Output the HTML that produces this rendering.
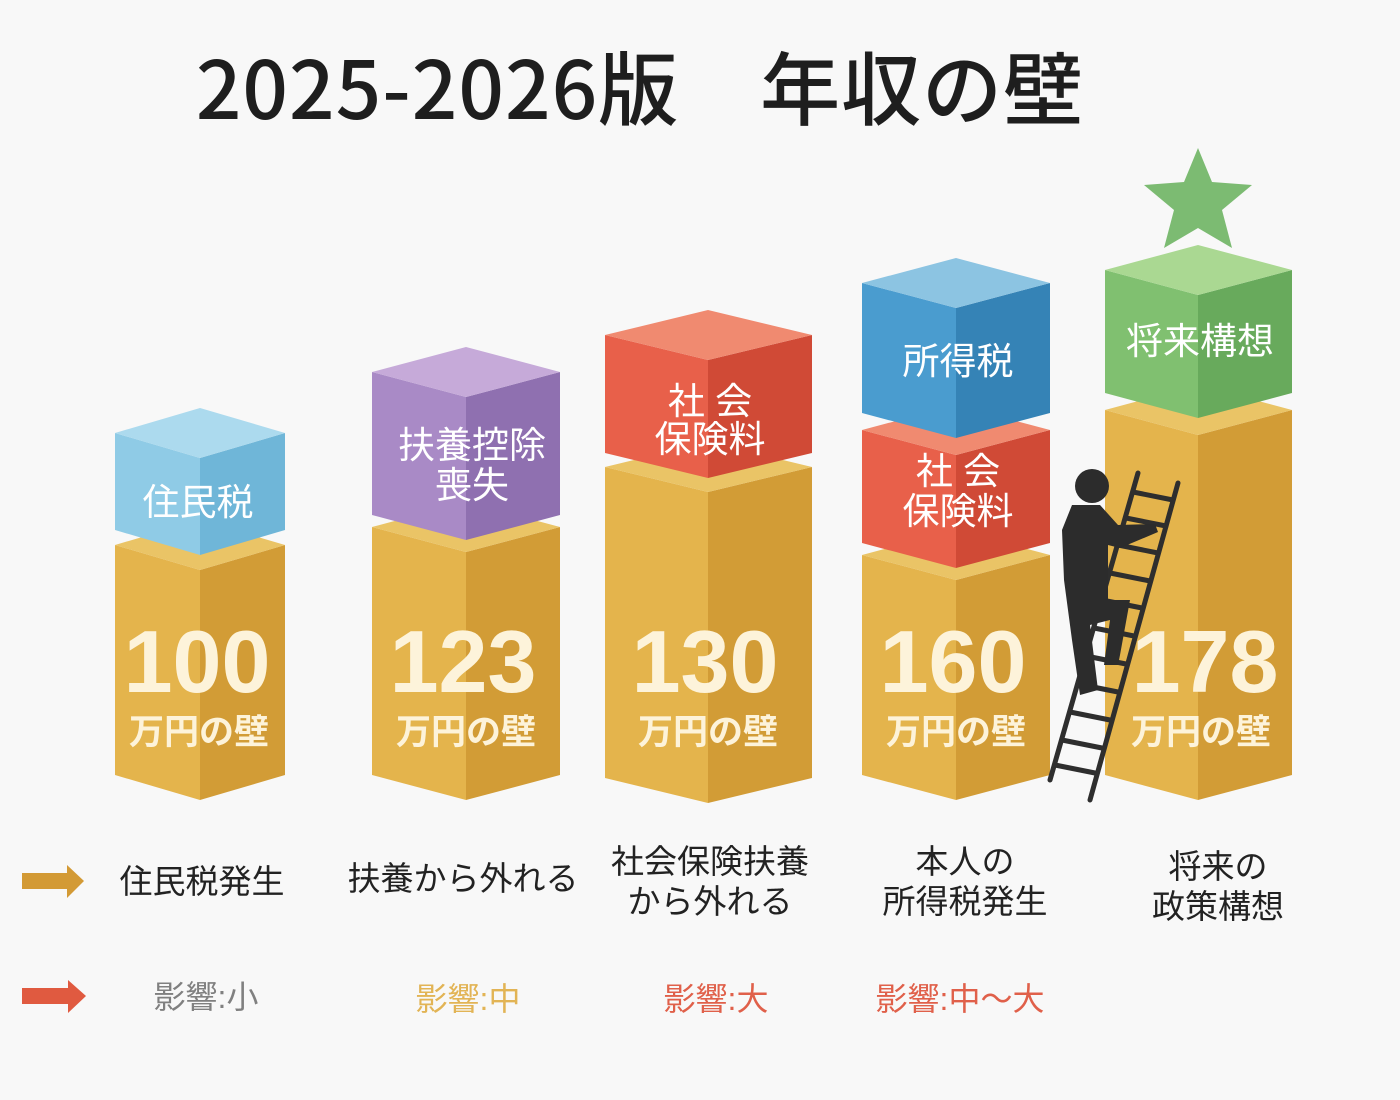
<!DOCTYPE html>
<html><head><meta charset="utf-8"><style>
html,body{margin:0;padding:0;background:#f8f8f8;}
svg{display:block;}
text{font-family:"Liberation Sans","Noto Sans CJK JP",sans-serif;}
</style></head><body>
<svg width="1400" height="1100" viewBox="0 0 1400 1100" xmlns="http://www.w3.org/2000/svg">
<rect width="1400" height="1100" fill="#f8f8f8"/>
<text x="640" y="119" font-size="80" font-weight="500" fill="#1e1e1e" text-anchor="middle" style="font-family:'Noto Sans CJK JP',sans-serif;letter-spacing:1px">2025-2026版　年収の壁</text>

<!-- Col1 -->
<g>
<polygon points="115,545 200,570 200,800 115,775" fill="#e4b44c"/>
<polygon points="200,570 285,545 285,775 200,800" fill="#d29c36"/>
<polygon points="115,545 200,520 285,545 200,570" fill="#eac466"/>
<polygon points="115,433 200,458 200,555 115,530" fill="#8fcbe6"/>
<polygon points="200,458 285,433 285,530 200,555" fill="#6fb6d8"/>
<polygon points="115,433 200,408 285,433 200,458" fill="#acdaee"/>
<text x="198" y="515" font-size="37" fill="#fff" text-anchor="middle">住民税</text>
<text x="197" y="692" font-size="88" font-weight="bold" fill="#fdf3da" text-anchor="middle">100</text>
<text x="199" y="744" font-size="35" font-weight="bold" fill="#fdf3da" text-anchor="middle">万円の壁</text>
</g>
<!-- Col2 -->
<g>
<polygon points="372,527 466,552 466,800 372,775" fill="#e4b44c"/>
<polygon points="466,552 560,527 560,775 466,800" fill="#d29c36"/>
<polygon points="372,527 466,502 560,527 466,552" fill="#eac466"/>
<polygon points="372,372 466,397 466,540 372,515" fill="#a98ac6"/>
<polygon points="466,397 560,372 560,515 466,540" fill="#8f70b0"/>
<polygon points="372,372 466,347 560,372 466,397" fill="#c6aad9"/>
<text x="472" y="458" font-size="37" fill="#fff" text-anchor="middle">扶養控除</text>
<text x="472" y="498" font-size="37" fill="#fff" text-anchor="middle">喪失</text>
<text x="463" y="692" font-size="88" font-weight="bold" fill="#fdf3da" text-anchor="middle">123</text>
<text x="466" y="744" font-size="35" font-weight="bold" fill="#fdf3da" text-anchor="middle">万円の壁</text>
</g>
<!-- Col3 -->
<g>
<polygon points="605,467 708,492 708,803 605,778" fill="#e4b44c"/>
<polygon points="708,492 812,467 812,778 708,803" fill="#d29c36"/>
<polygon points="605,467 708,442 812,467 708,492" fill="#eac466"/>
<polygon points="605,335 708,360 708,478 605,453" fill="#e8604a"/>
<polygon points="708,360 812,335 812,453 708,478" fill="#d04a36"/>
<polygon points="605,335 708,310 812,335 708,360" fill="#f08a70"/>
<text x="710" y="414" font-size="37" fill="#fff" text-anchor="middle">社 会</text>
<text x="710" y="452" font-size="37" fill="#fff" text-anchor="middle">保険料</text>
<text x="705" y="692" font-size="88" font-weight="bold" fill="#fdf3da" text-anchor="middle">130</text>
<text x="708" y="744" font-size="35" font-weight="bold" fill="#fdf3da" text-anchor="middle">万円の壁</text>
</g>
<!-- Col4 -->
<g>
<polygon points="862,555 956,580 956,800 862,775" fill="#e4b44c"/>
<polygon points="956,580 1050,555 1050,775 956,800" fill="#d29c36"/>
<polygon points="862,555 956,530 1050,555 956,580" fill="#eac466"/>
<polygon points="862,430 956,455 956,568 862,543" fill="#e8604a"/>
<polygon points="956,455 1050,430 1050,543 956,568" fill="#d04a36"/>
<polygon points="862,430 956,405 1050,430 956,455" fill="#f08a70"/>
<polygon points="862,283 956,308 956,438 862,413" fill="#4a9ccf"/>
<polygon points="956,308 1050,283 1050,413 956,438" fill="#3583b6"/>
<polygon points="862,283 956,258 1050,283 956,308" fill="#8cc4e2"/>
<text x="958" y="374" font-size="37" fill="#fff" text-anchor="middle">所得税</text>
<text x="958" y="484" font-size="37" fill="#fff" text-anchor="middle">社 会</text>
<text x="958" y="524" font-size="37" fill="#fff" text-anchor="middle">保険料</text>
<text x="953" y="692" font-size="88" font-weight="bold" fill="#fdf3da" text-anchor="middle">160</text>
<text x="956" y="744" font-size="35" font-weight="bold" fill="#fdf3da" text-anchor="middle">万円の壁</text>
</g>
<!-- Col5 -->
<g>
<polygon points="1105,410 1198,435 1198,800 1105,775" fill="#e4b44c"/>
<polygon points="1198,435 1292,410 1292,775 1198,800" fill="#d29c36"/>
<polygon points="1105,410 1198,385 1292,410 1198,435" fill="#eac466"/>
<polygon points="1105,270 1198,295 1198,418 1105,393" fill="#80c070"/>
<polygon points="1198,295 1292,270 1292,393 1198,418" fill="#68aa5c"/>
<polygon points="1105,270 1198,245 1292,270 1198,295" fill="#aad892"/>
<polygon points="1198,148 1212,182 1252,185 1222,210 1232,248 1198,228 1164,248 1174,210 1144,185 1184,182" fill="#7cbb72"/>
<text x="1200" y="354" font-size="37" fill="#fff" text-anchor="middle">将来構想</text>
<text x="1205" y="692" font-size="88" font-weight="bold" fill="#fdf3da" text-anchor="middle">178</text>
<text x="1201" y="744" font-size="35" font-weight="bold" fill="#fdf3da" text-anchor="middle">万円の壁</text>
</g>
<!-- ladder & person -->
<g stroke="#2e2e2e" stroke-width="5" stroke-linecap="round">
<line x1="1050" y1="780" x2="1138" y2="473"/>
<line x1="1090" y1="800" x2="1178" y2="483"/>
<line x1="1133" y1="492" x2="1173" y2="500"/>
<line x1="1126" y1="518" x2="1166" y2="526"/>
<line x1="1118" y1="545" x2="1158" y2="553"/>
<line x1="1110" y1="573" x2="1150" y2="581"/>
<line x1="1102" y1="600" x2="1142" y2="608"/>
<line x1="1094" y1="628" x2="1134" y2="636"/>
<line x1="1086" y1="656" x2="1126" y2="664"/>
<line x1="1078" y1="684" x2="1118" y2="692"/>
<line x1="1070" y1="712" x2="1110" y2="720"/>
<line x1="1062" y1="740" x2="1102" y2="748"/>
<line x1="1055" y1="765" x2="1095" y2="773"/>
</g>
<g fill="#2c2c2c">
<circle cx="1092" cy="486" r="17"/>
<path d="M1072,505 L1100,505 L1118,525 L1155,524 L1158,532 L1120,548 L1108,545 L1108,600 L1130,600 L1120,655 L1118,665 L1104,665 L1110,620 L1090,625 L1098,690 L1080,695 L1072,640 L1064,580 L1062,530 Z"/>
</g>
<!-- arrows -->
<polygon points="22,873 67,873 67,865 84,881 67,898 67,889 22,889" fill="#d39a35"/>
<polygon points="22,988 68,988 68,980 86,996 68,1013 68,1004 22,1004" fill="#e05a40"/>
<!-- labels -->
<g font-size="33" fill="#222" text-anchor="middle">
<text x="202" y="893">住民税発生</text>
<text x="463" y="890">扶養から外れる</text>
<text x="710" y="873">社会保険扶養</text>
<text x="710" y="913">から外れる</text>
<text x="965" y="873">本人の</text>
<text x="965" y="913">所得税発生</text>
<text x="1218" y="878">将来の</text>
<text x="1218" y="918">政策構想</text>
</g>
<g font-size="32" text-anchor="middle">
<text x="206" y="1008" fill="#808080">影響:小</text>
<text x="468" y="1010" fill="#e2b455">影響:中</text>
<text x="716" y="1010" fill="#e0604a">影響:大</text>
<text x="960" y="1010" fill="#e0604a">影響:中〜大</text>
</g>
</svg>
</body></html>
